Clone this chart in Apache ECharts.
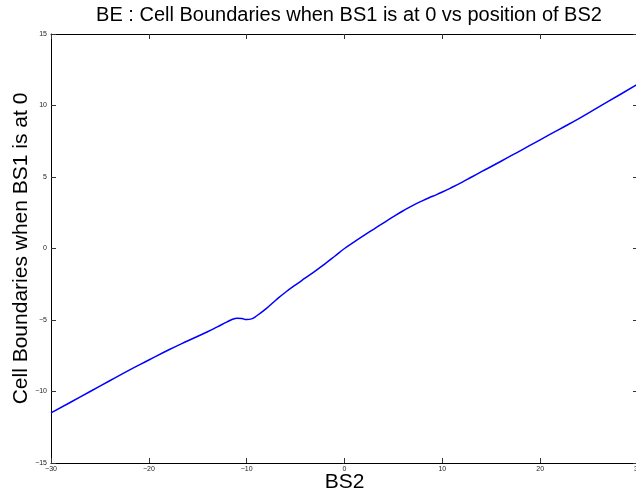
<!DOCTYPE html>
<html>
<head>
<meta charset="utf-8">
<script src="https://cdn.jsdelivr.net/npm/echarts@6/dist/echarts.min.js"></script>
<style>
  html, body { margin: 0; padding: 0; background: #fff; }
  #chart { width: 636px; height: 497px; }
</style>
</head>
<body>
<div id="chart"></div>
<script>
// values
const bs2 = [-30, -28, -26, -24, -22, -20, -18, -16, -14, -13, -12, -11.5, -11, -10.5, -10, -9.5, -9, -8, -7, -6, -5, -4, -3, -2, -1, 0,
  1, 2, 3, 4, 5, 6, 7, 8, 9, 10, 11, 12, 13, 14, 16, 18, 20, 22, 24, 26, 28, 30];
const boundary = [-11.5, -10.75, -10.0, -9.25, -8.5, -7.8, -7.1, -6.45, -5.82, -5.48, -5.13, -4.97, -4.88, -4.9, -4.97, -4.92, -4.72, -4.2, -3.6, -3.04, -2.54, -2.06, -1.58, -1.07, -0.54, 0,
  0.47, 0.92, 1.36, 1.8, 2.23, 2.64, 3.02, 3.35, 3.65, 3.95, 4.28, 4.63, 5.0, 5.37, 6.1, 6.85, 7.6, 8.35, 9.1, 9.9, 10.7, 11.5];
const xTicks = { min: -30, max: 30, interval: 10 };
const yTicks = { min: -15, max: 15, interval: 5 };

const chart = echarts.init(document.getElementById('chart'));
const minus = v => String(v).replace('-', '\u2212');
const tickLabel = { fontSize: 7, color: '#222', fontFamily: 'Liberation Sans', formatter: minus };
const inTick = { show: true, inside: true, length: 5, lineStyle: { color: '#333', width: 1 } };
const blackLine = { show: true, onZero: false, lineStyle: { color: '#000', width: 1 } };

chart.setOption({
  animation: false,
  title: {
    text: 'BE : Cell Boundaries when BS1 is at 0 vs position of BS2',
    left: 344, top: 0, textAlign: 'center',
    textStyle: { fontSize: 20, fontWeight: 'normal', color: '#000', fontFamily: 'Liberation Sans' }
  },
  grid: { left: 51, right: -2, top: 34, bottom: 34, outerBoundsMode: 'none', containLabel: false },
  xAxis: [
    {
      type: 'value', position: 'bottom', ...xTicks,
      name: 'BS2', nameLocation: 'middle', nameGap: 9, nameMoveOverlap: false,
      nameTextStyle: { fontSize: 21, color: '#000', fontFamily: 'Liberation Sans' },
      axisLine: blackLine, axisTick: inTick,
      axisLabel: { ...tickLabel, margin: 3 },
      splitLine: { show: false }
    },
    {
      type: 'value', position: 'top', ...xTicks,
      axisLine: blackLine, axisTick: inTick,
      axisLabel: { show: false }, splitLine: { show: false }
    }
  ],
  yAxis: [
    {
      type: 'value', position: 'left', ...yTicks,
      name: 'Cell Boundaries when BS1 is at 0', nameLocation: 'middle', nameGap: 19, nameMoveOverlap: false,
      nameTextStyle: { fontSize: 21, color: '#000', fontFamily: 'Liberation Sans' },
      axisLine: blackLine, axisTick: inTick,
      axisLabel: { ...tickLabel, margin: 4 },
      splitLine: { show: false }
    },
    {
      type: 'value', position: 'right', ...yTicks,
      axisLine: blackLine, axisTick: inTick,
      axisLabel: { show: false }, splitLine: { show: false }
    }
  ],
  series: [
    {
      type: 'line',
      data: bs2.map((x, i) => [x, boundary[i]]),
      smooth: 0.5,
      showSymbol: false,
      lineStyle: { color: '#0000ff', width: 1.5 },
      itemStyle: { color: '#0000ff' }
    }
  ]
});
</script>
</body>
</html>
